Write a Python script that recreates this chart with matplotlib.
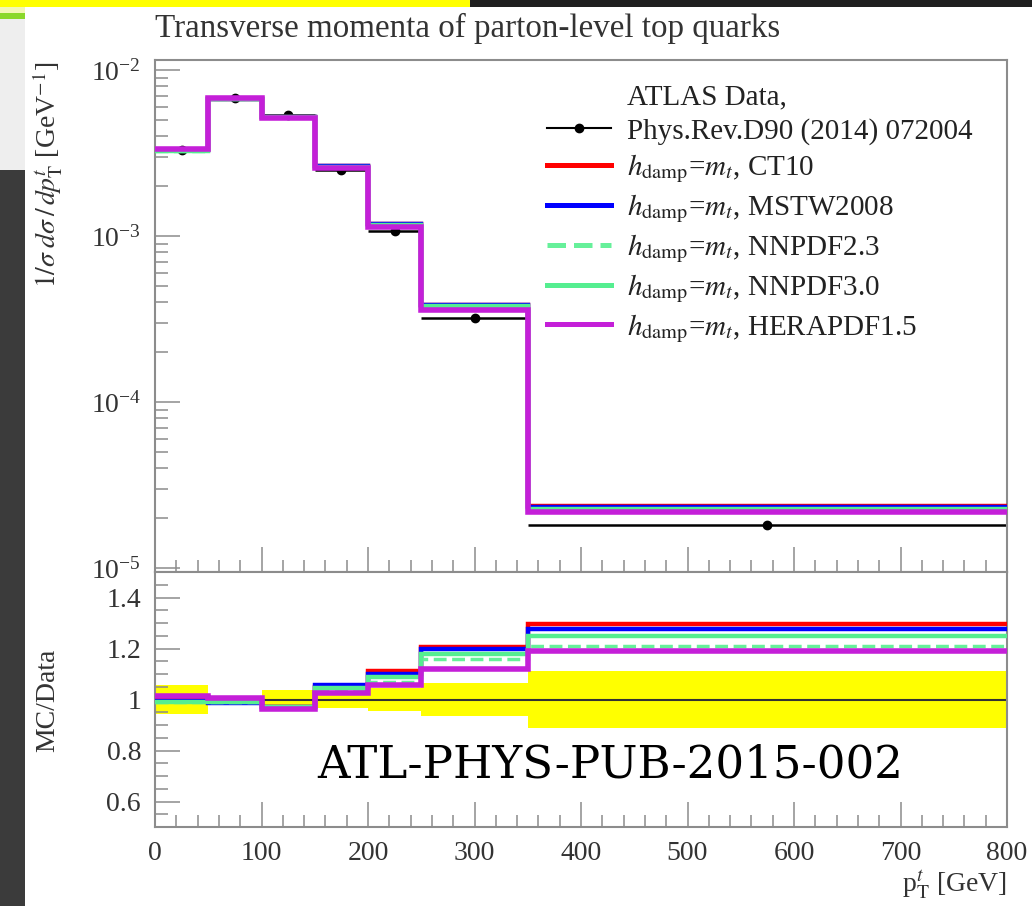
import numpy as np
import matplotlib.pyplot as plt
from matplotlib.lines import Line2D
from matplotlib.patches import Rectangle
from matplotlib.ticker import MultipleLocator, LogLocator, NullFormatter

plt.rcParams['font.family'] = ['Liberation Serif', 'DejaVu Serif']
plt.rcParams['mathtext.fontset'] = 'stix'

# pT bins [GeV]
edges = [0, 50, 100, 150, 200, 250, 350, 800]
centers = [25, 75, 125, 175, 225, 300, 575]

# ATLAS data, 1/sigma dsigma/dpT [1/GeV]
data = [3.30e-3, 6.75e-3, 5.36e-3, 2.50e-3, 1.07e-3, 3.19e-4, 1.82e-5]
# relative data uncertainty (yellow band)
rel_unc = [0.057, 0.015, 0.036, 0.035, 0.045, 0.065, 0.11]

# MC / Data for each PDF set (hdamp = mt)
ratio_ct10 = [1.000, 0.990, 0.970, 1.050, 1.110, 1.205, 1.295]
ratio_mstw = [0.995, 0.985, 0.970, 1.055, 1.100, 1.198, 1.278]
ratio_nnpdf23 = [0.990, 0.990, 0.970, 1.040, 1.070, 1.160, 1.210]
ratio_nnpdf30 = [0.990, 0.990, 0.970, 1.045, 1.090, 1.180, 1.250]
ratio_hera = [1.015, 1.005, 0.963, 1.025, 1.055, 1.120, 1.190]

pdf_names = ["CT10", "MSTW2008", "NNPDF2.3", "NNPDF3.0", "HERAPDF1.5"]
ratios = [ratio_ct10, ratio_mstw, ratio_nnpdf23, ratio_nnpdf30, ratio_hera]
colors = ["#ff0000", "#0000ff", "#66f09a", "#55ee90", "#c41fd8"]
styles = ["-", "-", "--", "-", "-"]
widths = [3.2, 3.2, 2.5, 3.2, 4.0]

W, H = 1032, 906
fig = plt.figure(figsize=(W / 100, H / 100), dpi=100)
fig.patch.set_facecolor("white")


def px_rect(x0, y0, x1, y1, color):
    fig.add_artist(Rectangle((x0 / W, 1 - y1 / H), (x1 - x0) / W, (y1 - y0) / H,
                             transform=fig.transFigure, facecolor=color,
                             edgecolor="none", zorder=0))


# slide background bits around the plot
px_rect(0, 0, 470, 7, "#ffff00")
px_rect(470, 0, W, 7, "#1f1f1f")
px_rect(0, 7, 25, 13, "#f2f7b5")
px_rect(0, 13, 25, 19, "#8ad82a")
px_rect(0, 19, 25, 170, "#eeeeee")
px_rect(0, 170, 25, H, "#3b3b3b")

ax1 = fig.add_axes([155 / W, 1 - 572 / H, 852 / W, 512 / H])
ax2 = fig.add_axes([155 / W, 1 - 827 / H, 852 / W, 255 / H])

edges = np.array(edges)
data = np.array(data)
rel_unc = np.array(rel_unc)
half = np.diff(edges) / 2

# top panel
ax1.errorbar(centers, data, xerr=half, yerr=data * rel_unc * 0.5, fmt="o",
             color="black", ms=6, elinewidth=1.8, capsize=0, zorder=2)
for r, c, ls, lw in zip(ratios, colors, styles, widths):
    ax1.stairs(data * np.array(r), edges, baseline=None, color=c,
               linestyle=ls, lw=lw, zorder=3)

ax1.set_yscale("log")
ax1.set_xlim(0, 800)
ax1.set_ylim(9.46e-6, 1.149e-2)
ax1.yaxis.set_major_locator(LogLocator(base=10, numticks=10))
ax1.yaxis.set_minor_locator(LogLocator(base=10, subs=np.arange(2, 10), numticks=20))
ax1.yaxis.set_minor_formatter(NullFormatter())
ax1.xaxis.set_major_locator(MultipleLocator(100))
ax1.xaxis.set_minor_locator(MultipleLocator(20))
ax1.tick_params(labelbottom=False)

# ratio panel
ax2.stairs(1 + rel_unc, edges, baseline=1 - rel_unc, fill=True,
           color="#ffff00", zorder=1)
ax2.axhline(1, color="#333333", lw=1.5, zorder=2)
for r, c, ls, lw in zip(ratios, colors, styles, widths):
    ax2.stairs(r, edges, baseline=None, color=c, linestyle=ls, lw=lw, zorder=3)

ax2.set_xlim(0, 800)
ax2.set_ylim(0.5, 1.5)
ax2.set_yticks([0.6, 0.8, 1.0, 1.2, 1.4])
ax2.set_yticklabels(["0.6", "0.8", "1", "1.2", "1.4"])
ax2.yaxis.set_minor_locator(MultipleLocator(0.05))
ax2.xaxis.set_major_locator(MultipleLocator(100))
ax2.xaxis.set_minor_locator(MultipleLocator(20))

for ax in (ax1, ax2):
    for s in ax.spines.values():
        s.set_color("#8c8c8c")
        s.set_linewidth(1.5)
    ax.tick_params(which="both", direction="in", color="#8c8c8c", width=1.1,
                   top=False, right=False, labelsize=20, labelcolor="#333333")
    ax.tick_params(which="major", length=18, pad=10)
    ax.tick_params(which="minor", length=9)

# legend
handles = [Line2D([], [], color="none"),
           Line2D([], [], color="black", marker="o", ms=6, lw=1.5)]
labels = ["ATLAS Data,", "Phys.Rev.D90 (2014) 072004"]
for name, c, ls in zip(pdf_names, colors, styles):
    handles.append(Line2D([], [], color=c, linestyle=ls, lw=3.6))
    labels.append(r"$h_{\rm damp}$=$m_t$, " + name)
ax1.legend(handles, labels, loc="upper left", bbox_to_anchor=(547 / W, 1 - 84 / H),
           bbox_transform=fig.transFigure, frameon=False, fontsize=21,
           handlelength=2.2, handletextpad=0.55, labelspacing=0.25,
           borderpad=0, borderaxespad=0, labelcolor="#222222")

# texts
fig.text(155 / W, 1 - 28 / H, "Transverse momenta of parton-level top quarks",
         ha="left", va="center", fontsize=23.8, color="#333333")
fig.text(48 / W, 1 - 175 / H, r"$1/\sigma\; d\sigma\,/\,dp_{\rm T}^{t}$ [GeV$^{-1}$]",
         rotation=90, ha="center", va="center", fontsize=20, color="#333333")
fig.text(48 / W, 1 - 700 / H, "MC/Data", rotation=90, ha="center", va="center",
         fontsize=20, color="#333333")
fig.text(1007 / W, 1 - 885 / H, r"p$_{\rm T}^{t}$ [GeV]", ha="right", va="center",
         fontsize=20, color="#333333")
fig.text(610 / W, 1 - 765 / H, "ATL-PHYS-PUB-2015-002", ha="center", va="center",
         fontsize=32.5, family="DejaVu Serif", color="black")

plt.savefig("out.png", dpi=100)
